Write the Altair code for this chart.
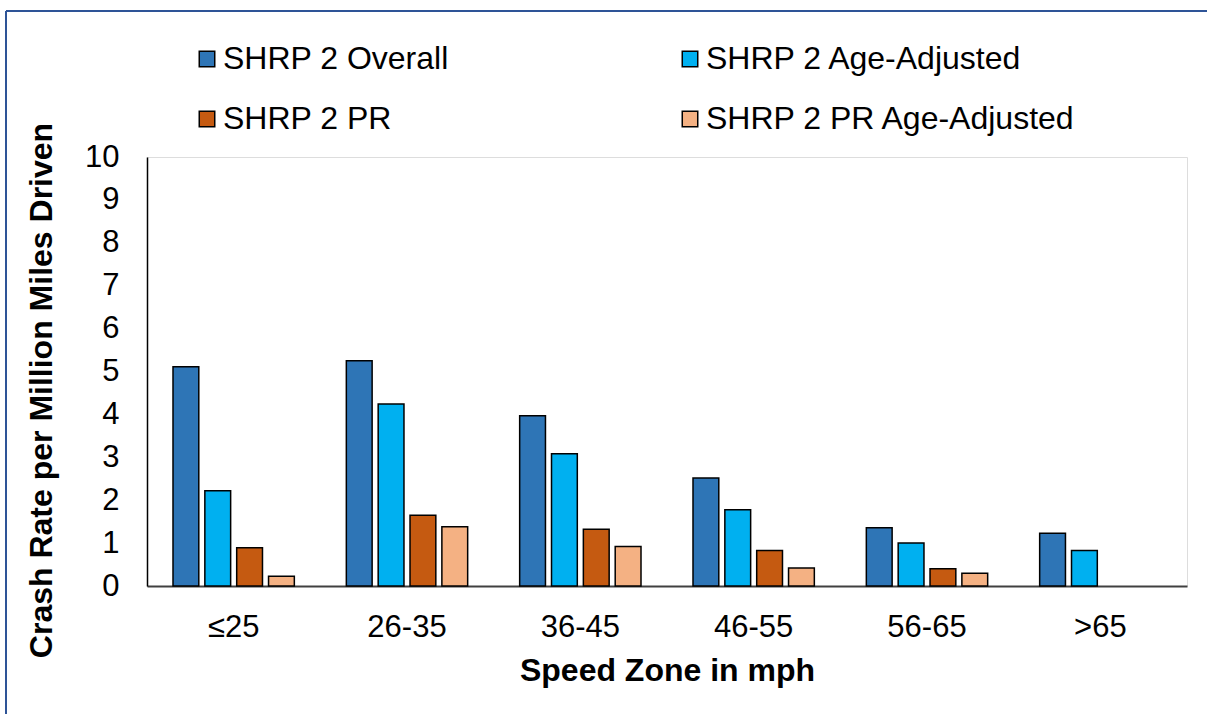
import altair as alt
import pandas as pd

# Crash rates per million miles driven, by speed zone
zones = ["≤25", "26-35", "36-45", "46-55", "56-65", ">65"]
series = ["SHRP 2 Overall", "SHRP 2 Age-Adjusted", "SHRP 2 PR", "SHRP 2 PR Age-Adjusted"]
overall = [5.11, 5.25, 3.97, 2.52, 1.36, 1.23]
age_adjusted = [2.22, 4.24, 3.08, 1.78, 1.00, 0.83]
pr = [0.89, 1.65, 1.32, 0.83, 0.40, None]
pr_age_adjusted = [0.23, 1.38, 0.92, 0.42, 0.30, None]
colors = ["#2E75B6", "#00B0F0", "#C55A11", "#F4B183"]

rows = []
for name, values in zip(series, [overall, age_adjusted, pr, pr_age_adjusted]):
    for zone, v in zip(zones, values):
        if v is not None:
            rows.append({"zone": zone, "series": name, "rate": v})
df = pd.DataFrame(rows)

FONT = "Liberation Sans"
W, H = 1040, 429
PAD_L, PAD_T = 147, 157

bars = alt.Chart(df).mark_bar(stroke="black", strokeWidth=1.5).encode(
    x=alt.X(
        "zone:N",
        sort=zones,
        scale=alt.Scale(paddingInner=0.3, paddingOuter=0.15),
        axis=alt.Axis(
            title="Speed Zone in mph",
            labelAngle=0,
            labelFontSize=31,
            labelPadding=26,
            ticks=False,
            domainColor="#404040",
            domainWidth=2,
            titleFontSize=32,
            titleFontWeight="bold",
            titlePadding=13,
        ),
    ),
    xOffset=alt.XOffset(
        "series:N",
        sort=series,
        scale=alt.Scale(domain=series, paddingInner=0.19, paddingOuter=0),
    ),
    y=alt.Y(
        "rate:Q",
        scale=alt.Scale(domain=[0, 10], nice=False),
        axis=alt.Axis(
            title="Crash Rate per Million Miles Driven",
            values=list(range(0, 11)),
            labelFontSize=31,
            labelPadding=28,
            ticks=False,
            grid=False,
            domainColor="black",
            domainWidth=1.5,
            titleFontSize=32,
            titleFontWeight="bold",
            titlePadding=26,
            titleY=233,
        ),
    ),
    color=alt.Color(
        "series:N",
        sort=series,
        scale=alt.Scale(domain=series, range=colors),
        legend=alt.Legend(
            title=None,
            orient="none",
            legendX=44,
            legendY=-114,
            columns=2,
            direction="horizontal",
            columnPadding=225,
            rowPadding=28,
            symbolType="square",
            symbolSize=240,
            symbolStrokeColor="black",
            symbolStrokeWidth=1.5,
            labelFontSize=32,
            labelOffset=0,
            labelLimit=600,
        ),
    ),
)

# Outer frame lines along the left and top edges of the figure
frame_left = alt.Chart(df).mark_rule(color="#2F5597", strokeWidth=1.5).encode(
    x=alt.value(6 - PAD_L), y=alt.value(11 - PAD_T), y2=alt.value(760 - PAD_T)
)
frame_top = alt.Chart(df).mark_rule(color="#2F5597", strokeWidth=1.5).encode(
    x=alt.value(6 - PAD_L), x2=alt.value(1260 - PAD_L), y=alt.value(11 - PAD_T)
)

chart = (
    alt.layer(bars, frame_left, frame_top)
    .properties(
        width=W,
        height=H,
        autosize=alt.AutoSizeParams(type="none"),
        padding={"left": PAD_L, "top": PAD_T, "right": 1207 - PAD_L - W, "bottom": 714 - PAD_T - H},
        background="white",
    )
    .configure_view(stroke=None)
    .configure(font=FONT)
    .configure_axis(labelColor="black", titleColor="black", labelFont=FONT, titleFont=FONT)
    .configure_legend(labelColor="black", labelFont=FONT)
)

chart.save("out.html", embed_options={"renderer": "svg", "actions": False})
